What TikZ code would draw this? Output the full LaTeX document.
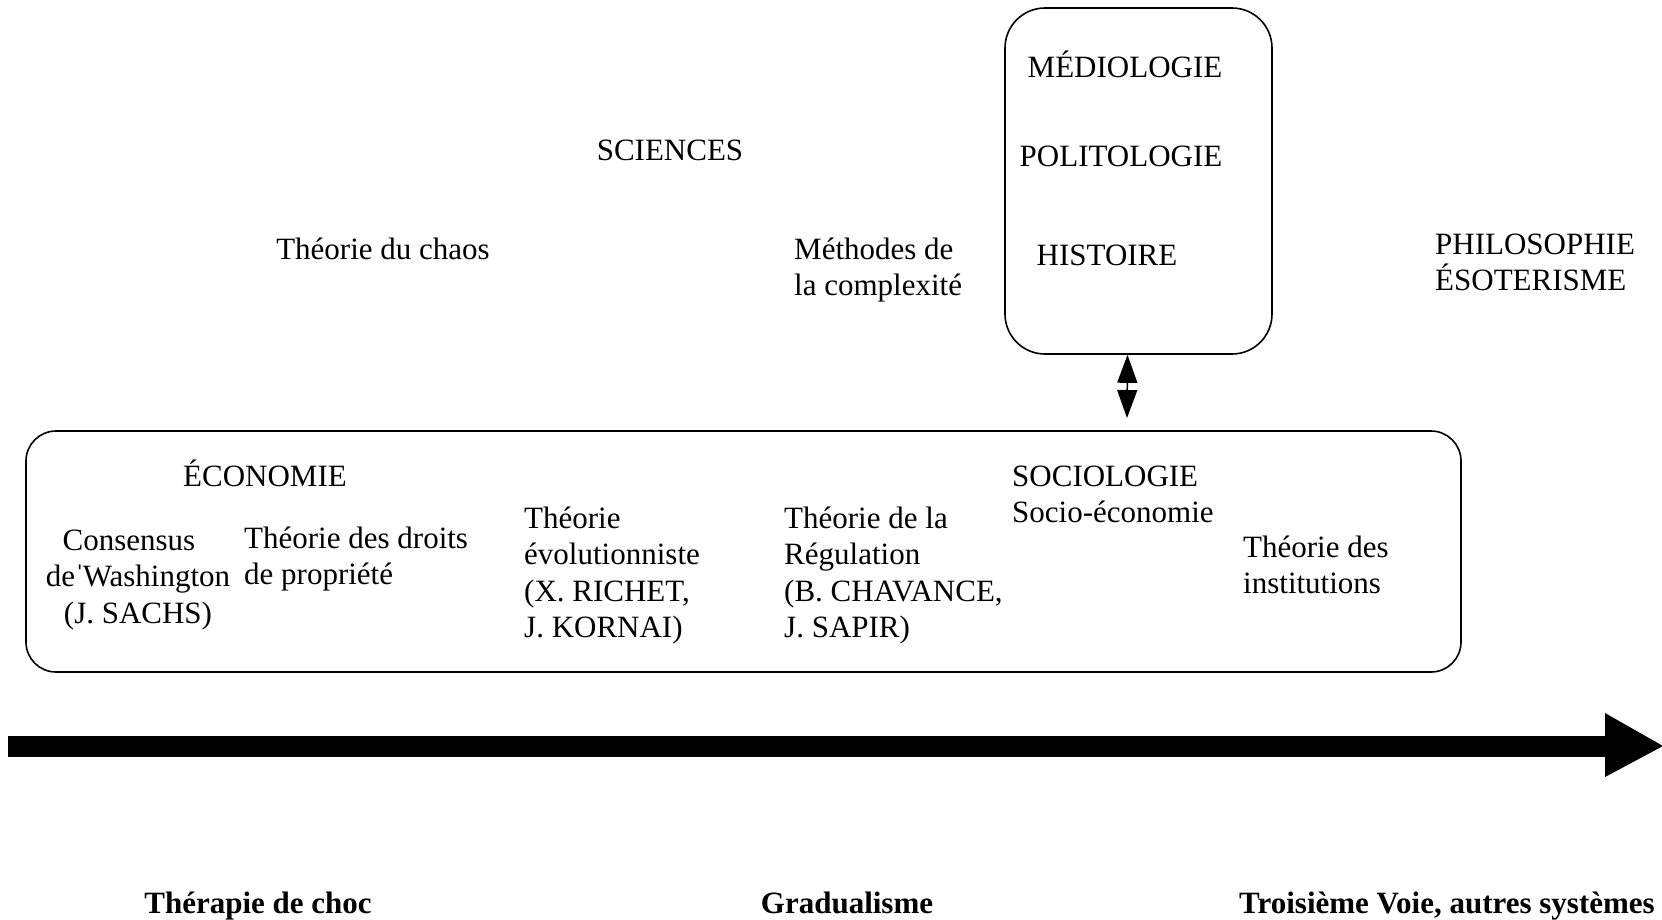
\documentclass[tikz,border=0pt]{standalone}
\usepackage{fontspec}
\setmainfont{Liberation Serif}
\usetikzlibrary{arrows.meta}
\begin{document}
\begin{tikzpicture}[x=1pt,y=-1pt,
  txt/.style={font=\fontsize{31}{36.5}\selectfont, inner sep=0pt, anchor=base west, align=left},
  ctxt/.style={txt, anchor=base, align=center},
  lbl/.style={font=\fontsize{31}{36.5}\selectfont\bfseries, inner sep=0pt, anchor=base},
  panel/.style={draw, line width=1.6pt, inner sep=0pt},
  link/.style={line width=1.5pt, {Triangle[length=28pt,width=20pt]}-{Triangle[length=28pt,width=20pt]}},
]
\useasboundingbox (0,0) rectangle (1662,919);

% upper field (multi-line nodes sit on the baseline of their last line)
\node[ctxt] (sci) at (670,160) {SCIENCES};
\node[ctxt] (chaos) at (383,259) {Théorie du chaos};
\node[txt] (complex) at (794,295.5) {Méthodes de\\la complexité};
\node[txt] (philo) at (1435,290.5) {PHILOSOPHIE\\ÉSOTERISME};

% humanities panel
\node[panel, rounded corners=40pt, minimum width=267pt, minimum height=346pt] (hum) at (1138.5,181) {};
\node[ctxt] (medio) at (1125,77) {MÉDIOLOGIE};
\node[ctxt] (polit) at (1121,166) {POLITOLOGIE};
\node[ctxt] (hist) at (1107,265) {HISTOIRE};

% economics / sociology panel
\node[panel, rounded corners=30pt, minimum width=1435pt, minimum height=241pt] (eco) at (743.5,551.5) {};
\node[ctxt] (econ) at (265,486) {ÉCONOMIE};
\node[ctxt] (wash) at (138,623) {Consensus\kern18pt\\de \llap{ˈ\kern-2pt}Washington\\(J. SACHS)};
\node[txt] (droits) at (244,584.5) {Théorie des droits\\de propriété};
\node[txt] (evol) at (524,637.5) {Théorie\\évolutionniste\\(X. RICHET,\\J. KORNAI)};
\node[txt] (regul) at (784,637.5) {Théorie de la\\Régulation\\(B. CHAVANCE,\\J. SAPIR)};
\node[txt] (socio) at (1012,522.5) {SOCIOLOGIE\\Socio-économie};
\node[txt] (instit) at (1243,593.5) {Théorie des\\institutions};

% two-way link between the panels
\coordinate (linkTop) at ([xshift=-11pt]hum.south);
\coordinate (linkBot) at (1127,418);
\draw[link] (linkTop) -- (linkBot);

% transition axis
\coordinate (axisStart) at (8,746);
\coordinate (axisBase) at (1605,746);
\coordinate (axisTip) at (1663,746);
\draw[line width=21pt] (axisStart) -- (axisBase);
\fill (1605,713) -- (axisTip) -- (1605,777) -- cycle;

% strategies along the axis
\node[lbl] (choc) at (258,913) {Thérapie de choc};
\node[lbl] (grad) at (847,913) {Gradualisme};
\node[lbl] (voie) at (1447,913) {Troisième Voie, autres systèmes};
\end{tikzpicture}
\end{document}
